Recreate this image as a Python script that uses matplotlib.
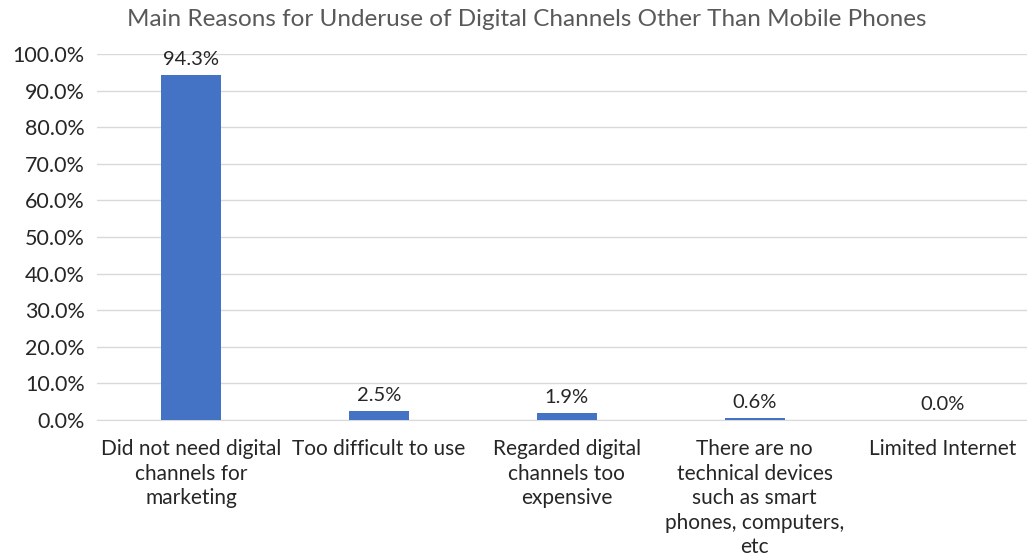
import matplotlib.pyplot as plt
from matplotlib.ticker import PercentFormatter

reasons = [
    "Did not need digital\nchannels for\nmarketing",
    "Too difficult to use",
    "Regarded digital\nchannels too\nexpensive",
    "There are no\ntechnical devices\nsuch as smart\nphones, computers,\netc",
    "Limited Internet",
]
shares = [94.3, 2.5, 1.9, 0.6, 0.0]
y_ticks = [0, 10, 20, 30, 40, 50, 60, 70, 80, 90, 100]

plt.rcParams["font.family"] = ["Lato", "DejaVu Sans"]

fig = plt.figure(figsize=(10.27, 5.57), dpi=100)
ax = fig.add_axes([0.0945, 0.246, 0.9055, 0.657])

x = range(len(reasons))
bars = ax.bar(x, shares, width=0.32, color="#4472C4", zorder=3)

# value labels above each bar
for bar, val in zip(bars, shares):
    ax.text(bar.get_x() + bar.get_width() / 2, val + 1.8, f"{val:.1f}%",
            ha="center", va="bottom", fontsize=14.5, color="#262626")

ax.set_xlim(-0.5, 4.45)
ax.set_ylim(0, 100)
ax.set_yticks(y_ticks)
ax.yaxis.set_major_formatter(PercentFormatter(decimals=1))
ax.set_xticks(list(x))
ax.set_xticklabels(reasons, fontsize=15, color="#262626", linespacing=1.28, va="top")
ax.tick_params(axis="y", labelsize=15.5, labelcolor="#262626", length=0, pad=9)
ax.tick_params(axis="x", length=0, pad=14)

ax.grid(axis="y", color="#D9D9D9", linewidth=1, zorder=0)
for side in ["top", "right", "left"]:
    ax.spines[side].set_visible(False)
ax.spines["bottom"].set_color("#D9D9D9")

fig.text(0.513, 0.965, "Main Reasons for Underuse of Digital Channels Other Than Mobile Phones",
         ha="center", va="center", fontsize=17.5, color="#595959")

fig.savefig("out.png", dpi=100)
